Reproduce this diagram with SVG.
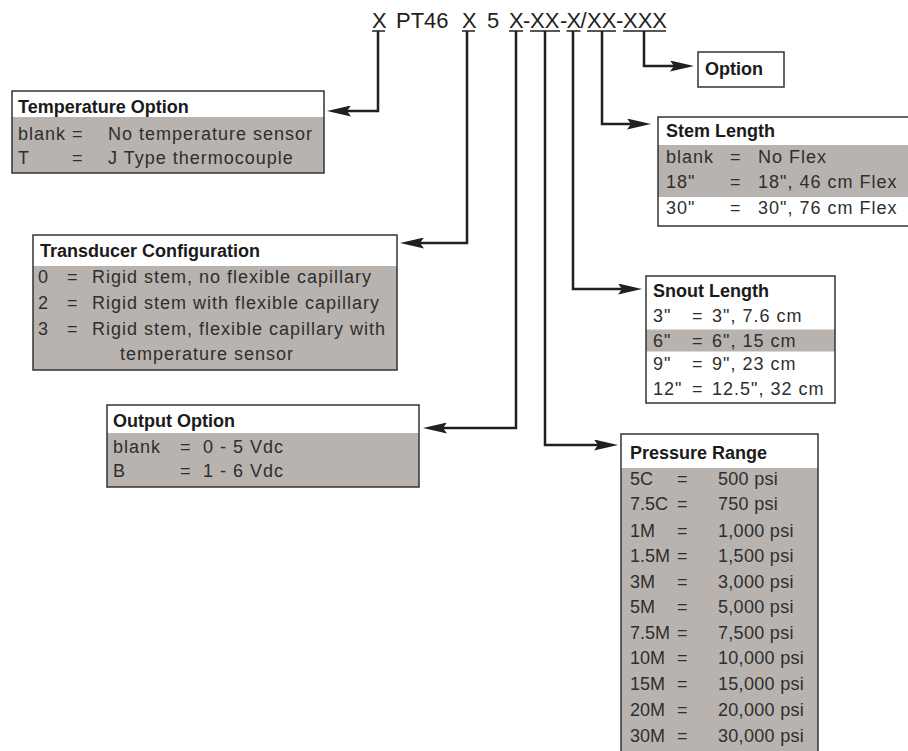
<svg xmlns="http://www.w3.org/2000/svg" width="908" height="751" viewBox="0 0 908 751">
<style>
  .code{font-family:"Liberation Sans",Arial,sans-serif;font-size:22px;fill:#231f20}
  .ttl{font-family:"Liberation Sans",Arial,sans-serif;font-size:18px;font-weight:bold;fill:#1a1a1a}
  .row{font-family:"Liberation Sans",Arial,sans-serif;font-size:18px;letter-spacing:1px;fill:#2e2e2e}
  .pk{font-family:"Liberation Sans",Arial,sans-serif;font-size:18px;letter-spacing:0px;fill:#2e2e2e}
  .pv{font-family:"Liberation Sans",Arial,sans-serif;font-size:18px;letter-spacing:0.3px;fill:#2e2e2e}
  .box{fill:#ffffff;stroke:none}
  .frame{fill:none;stroke:#333333;stroke-width:1.5}
  .grey{fill:#b8b3af;stroke:none}
  .ul{stroke:#231f20;stroke-width:1.5}
  .conn{fill:none;stroke:#231f20;stroke-width:2.5;marker-end:url(#arr)}
</style>
<defs>
  <marker id="arr" viewBox="0 0 24 11" markerWidth="24" markerHeight="11" refX="13" refY="5.5" orient="auto" markerUnits="userSpaceOnUse">
    <path d="M0,0 L24,5.5 L0,11 L4,5.5 Z" fill="#231f20"/>
  </marker>
</defs>
<rect width="908" height="751" fill="#ffffff"/>

<g id="code">
  <text class="code" y="28"><tspan x="372">X</tspan><tspan x="396">PT46</tspan><tspan x="462">X</tspan><tspan x="487">5</tspan><tspan x="509">X</tspan><tspan x="523">-</tspan><tspan x="530">XX</tspan><tspan x="560">-</tspan><tspan x="566.5">X</tspan><tspan x="580.5">/</tspan><tspan x="587">XX</tspan><tspan x="616">-</tspan><tspan x="623">XXX</tspan></text>
  <line class="ul" x1="372" y1="31" x2="385" y2="31"/>
  <line class="ul" x1="462" y1="31" x2="475" y2="31"/>
  <line class="ul" x1="509" y1="31" x2="523" y2="31"/>
  <line class="ul" x1="530" y1="31" x2="560" y2="31"/>
  <line class="ul" x1="566.5" y1="31" x2="580.5" y2="31"/>
  <line class="ul" x1="587" y1="31" x2="616" y2="31"/>
  <line class="ul" x1="623" y1="31" x2="666" y2="31"/>
</g>

<g id="connectors">
  <path class="conn" d="M378,31 V111 H338"/>
  <path class="conn" d="M467,31 V243 H411"/>
  <path class="conn" d="M516,31 V428 H434"/>
  <path class="conn" d="M545,31 V445 H607"/>
  <path class="conn" d="M573,31 V289 H631"/>
  <path class="conn" d="M602,31 V124 H640"/>
  <path class="conn" d="M644,31 V66 H683"/>
</g>

<g id="option">
  <rect class="box" x="698" y="52" width="86" height="35"/>
  <rect class="frame" x="698" y="52" width="86" height="35"/>
  <text class="ttl" x="705" y="75">Option</text>
</g>

<g id="temperature-option">
  <rect class="box" x="12" y="91" width="312" height="82"/>
  <rect class="grey" x="12" y="117" width="312" height="56"/>
  <rect class="frame" x="12" y="91" width="312" height="82"/>
  <text class="ttl" x="18" y="113">Temperature Option</text>
  <text class="row" x="18" y="140">blank</text><text class="row" x="72" y="140">=</text><text class="row" x="108" y="140">No temperature sensor</text>
  <text class="row" x="18" y="164">T</text><text class="row" x="72" y="164">=</text><text class="row" x="108" y="164">J Type thermocouple</text>
</g>

<g id="transducer-configuration">
  <rect class="box" x="33" y="235" width="364" height="135"/>
  <rect class="grey" x="33" y="266" width="364" height="104"/>
  <rect class="frame" x="33" y="235" width="364" height="135"/>
  <text class="ttl" x="40" y="257">Transducer Configuration</text>
  <text class="row" x="38" y="283">0</text><text class="row" x="67" y="283">=</text><text class="row" x="92" y="283">Rigid stem, no flexible capillary</text>
  <text class="row" x="38" y="309">2</text><text class="row" x="67" y="309">=</text><text class="row" x="92" y="309">Rigid stem with flexible capillary</text>
  <text class="row" x="38" y="335">3</text><text class="row" x="67" y="335">=</text><text class="row" x="92" y="335">Rigid stem, flexible capillary with</text>
  <text class="row" x="120" y="360">temperature sensor</text>
</g>

<g id="output-option">
  <rect class="box" x="107" y="405" width="312" height="82"/>
  <rect class="grey" x="107" y="433" width="312" height="54"/>
  <rect class="frame" x="107" y="405" width="312" height="82"/>
  <text class="ttl" x="113" y="427">Output Option</text>
  <text class="row" x="113" y="453">blank</text><text class="row" x="180" y="453">=</text><text class="row" x="203" y="453">0 - 5 Vdc</text>
  <text class="row" x="113" y="477">B</text><text class="row" x="180" y="477">=</text><text class="row" x="203" y="477">1 - 6 Vdc</text>
</g>

<g id="stem-length">
  <rect class="box" x="658" y="117" width="252" height="109"/>
  <rect class="grey" x="658" y="145" width="252" height="52"/>
  <rect class="frame" x="658" y="117" width="252" height="109"/>
  <text class="ttl" x="666" y="137">Stem Length</text>
  <text class="row" x="666" y="163">blank</text><text class="row" x="730" y="163">=</text><text class="row" x="758" y="163">No Flex</text>
  <text class="row" x="666" y="188">18"</text><text class="row" x="730" y="188">=</text><text class="row" x="758" y="188">18", 46 cm Flex</text>
  <text class="row" x="666" y="214">30"</text><text class="row" x="730" y="214">=</text><text class="row" x="758" y="214">30", 76 cm Flex</text>
</g>

<g id="snout-length">
  <rect class="box" x="646" y="276" width="189" height="127"/>
  <rect class="grey" x="646" y="329.5" width="189" height="22"/>
  <rect class="frame" x="646" y="276" width="189" height="127"/>
  <text class="ttl" x="653" y="297">Snout Length</text>
  <text class="row" x="653" y="322">3"</text><text class="row" x="692" y="322">=</text><text class="row" x="712" y="322">3", 7.6 cm</text>
  <text class="row" x="653" y="347">6"</text><text class="row" x="692" y="347">=</text><text class="row" x="712" y="347">6", 15 cm</text>
  <text class="row" x="653" y="370">9"</text><text class="row" x="692" y="370">=</text><text class="row" x="712" y="370">9", 23 cm</text>
  <text class="row" x="653" y="395">12"</text><text class="row" x="692" y="395">=</text><text class="row" x="712" y="395">12.5", 32 cm</text>
</g>

<g id="pressure-range">
  <rect class="box" x="621" y="434" width="197" height="320"/>
  <rect class="grey" x="621" y="468" width="197" height="286"/>
  <rect class="frame" x="621" y="434" width="197" height="320"/>
  <text class="ttl" x="630" y="459">Pressure Range</text>
  <text class="pk" x="630" y="485">5C</text><text class="pk" x="677" y="485">=</text><text class="pv" x="718" y="485">500 psi</text>
  <text class="pk" x="630" y="510">7.5C</text><text class="pk" x="677" y="510">=</text><text class="pv" x="718" y="510">750 psi</text>
  <text class="pk" x="630" y="536.5">1M</text><text class="pk" x="677" y="536.5">=</text><text class="pv" x="718" y="536.5">1,000 psi</text>
  <text class="pk" x="630" y="562">1.5M</text><text class="pk" x="677" y="562">=</text><text class="pv" x="718" y="562">1,500 psi</text>
  <text class="pk" x="630" y="587.5">3M</text><text class="pk" x="677" y="587.5">=</text><text class="pv" x="718" y="587.5">3,000 psi</text>
  <text class="pk" x="630" y="613">5M</text><text class="pk" x="677" y="613">=</text><text class="pv" x="718" y="613">5,000 psi</text>
  <text class="pk" x="630" y="638.5">7.5M</text><text class="pk" x="677" y="638.5">=</text><text class="pv" x="718" y="638.5">7,500 psi</text>
  <text class="pk" x="630" y="664">10M</text><text class="pk" x="677" y="664">=</text><text class="pv" x="718" y="664">10,000 psi</text>
  <text class="pk" x="630" y="690">15M</text><text class="pk" x="677" y="690">=</text><text class="pv" x="718" y="690">15,000 psi</text>
  <text class="pk" x="630" y="715.5">20M</text><text class="pk" x="677" y="715.5">=</text><text class="pv" x="718" y="715.5">20,000 psi</text>
  <text class="pk" x="630" y="741.5">30M</text><text class="pk" x="677" y="741.5">=</text><text class="pv" x="718" y="741.5">30,000 psi</text>
</g>
</svg>
